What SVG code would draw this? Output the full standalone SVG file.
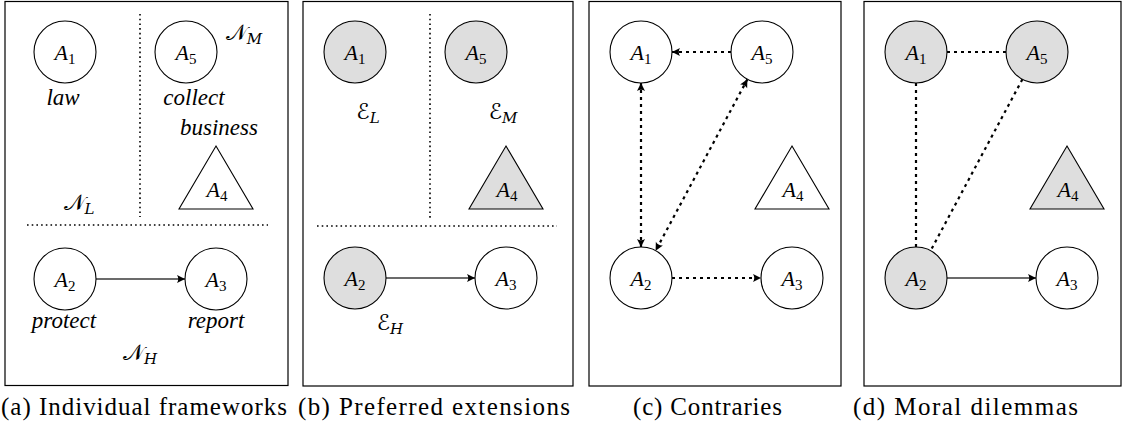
<svg xmlns="http://www.w3.org/2000/svg" width="1125" height="436" viewBox="0 0 1125 436">
<style>
  .box{fill:none;stroke:#000;stroke-width:1.2}
  .node{fill:#fff;stroke:#000;stroke-width:1.1}
  .sel{fill:#dedede}
  .sep{fill:none;stroke:#000;stroke-width:1.6;stroke-dasharray:1.6 3.1}
  .att{fill:none;stroke:#3a3a3a;stroke-width:1.3}
  .con{fill:none;stroke:#000;stroke-width:2.2;stroke-dasharray:3 4}
  .m{font-family:"Liberation Serif","DejaVu Serif",serif;font-size:22px;font-style:italic;text-anchor:middle;fill:#000}
  .sub{font-size:15px;font-style:normal}
  .subi{font-size:15px;font-style:italic}
  .w{font-family:"Liberation Serif","DejaVu Serif",serif;font-size:23px;font-style:italic;text-anchor:middle;fill:#000}
  .cal{font-family:"DejaVu Serif","DejaVu Sans",serif;font-size:22px;text-anchor:middle;fill:#000}
  .cap{font-family:"Liberation Serif","DejaVu Serif",serif;font-size:25px;fill:#000}
</style>
<defs>
  <marker id="arr" markerUnits="userSpaceOnUse" viewBox="-9 -5 10 10" markerWidth="10" markerHeight="10" refX="0" refY="0" orient="auto-start-reverse">
    <path d="M0,0 L-8,-4 Q-5.5,0 -8,4 Z" fill="#000"/>
  </marker>
</defs>

<!-- panel boxes -->
<g id="frames">
  <rect class="box" x="5" y="1.5" width="283" height="384"/>
  <rect class="box" x="303" y="1.5" width="270" height="384.5"/>
  <rect class="box" x="589" y="1.5" width="252" height="384.5"/>
  <rect class="box" x="864" y="1.5" width="257" height="384.5"/>
</g>

<!-- separators -->
<g id="separators">
  <line class="sep" x1="140" y1="14" x2="140" y2="217"/>
  <line class="sep" x1="27" y1="225" x2="268" y2="225"/>
  <line class="sep" x1="430" y1="14" x2="430" y2="218"/>
  <line class="sep" x1="317" y1="226" x2="557" y2="226"/>
</g>

<!-- connectors -->
<g id="connectors">
  <line class="att" x1="96" y1="279" x2="185" y2="279" marker-end="url(#arr)"/>
  <line class="att" x1="386" y1="278" x2="475" y2="278" marker-end="url(#arr)"/>
  <line class="con" x1="731" y1="52" x2="672" y2="52" marker-end="url(#arr)"/>
  <line class="con" x1="641" y1="83" x2="641" y2="247" marker-start="url(#arr)" marker-end="url(#arr)"/>
  <line class="con" x1="747.4" y1="79.3" x2="655.6" y2="250.7" marker-start="url(#arr)" marker-end="url(#arr)"/>
  <line class="con" x1="672" y1="278" x2="761" y2="278" marker-end="url(#arr)"/>
  <line class="con" x1="947" y1="52" x2="1006" y2="52"/>
  <line class="con" x1="916" y1="83" x2="916" y2="247"/>
  <line class="con" x1="1022.4" y1="79.3" x2="930.6" y2="250.7"/>
  <line class="att" x1="947" y1="278" x2="1036" y2="278" marker-end="url(#arr)"/>
</g>

<!-- panel (a) -->
<g id="a-A1"><circle class="node" cx="65" cy="52" r="31"/><text class="m" x="65" y="60">A<tspan class="sub" dy="4">1</tspan></text></g>
<g id="a-A5"><circle class="node" cx="186" cy="52" r="31"/><text class="m" x="186" y="60">A<tspan class="sub" dy="4">5</tspan></text></g>
<g id="a-A4"><polygon class="node" points="216,146 253,209 179,209"/><text class="m" x="217" y="197">A<tspan class="sub" dy="4">4</tspan></text></g>
<g id="a-A2"><circle class="node" cx="65" cy="279" r="31"/><text class="m" x="65" y="287">A<tspan class="sub" dy="4">2</tspan></text></g>
<g id="a-A3"><circle class="node" cx="216" cy="279" r="31"/><text class="m" x="216" y="287">A<tspan class="sub" dy="4">3</tspan></text></g>
<g id="a-labels">
  <text class="w" x="63" y="105">law</text>
  <text class="w" x="194" y="105">collect</text>
  <text class="w" x="219" y="135">business</text>
  <text class="w" x="64" y="328">protect</text>
  <text class="w" x="216" y="328">report</text>
  <text class="cal" x="244" y="40">𝒩<tspan class="subi" dy="4">M</tspan></text>
  <text class="cal" x="79" y="210">𝒩<tspan class="subi" dy="4">L</tspan></text>
  <text class="cal" x="140" y="360">𝒩<tspan class="subi" dy="4">H</tspan></text>
</g>

<!-- panel (b) -->
<g id="b-A1"><circle class="node sel" cx="355" cy="52" r="31"/><text class="m" x="355" y="60">A<tspan class="sub" dy="4">1</tspan></text></g>
<g id="b-A5"><circle class="node sel" cx="476" cy="52" r="31"/><text class="m" x="476" y="60">A<tspan class="sub" dy="4">5</tspan></text></g>
<g id="b-A4"><polygon class="node sel" points="506,146 543,209 469,209"/><text class="m" x="507" y="197">A<tspan class="sub" dy="4">4</tspan></text></g>
<g id="b-A2"><circle class="node sel" cx="355" cy="278" r="31"/><text class="m" x="355" y="286">A<tspan class="sub" dy="4">2</tspan></text></g>
<g id="b-A3"><circle class="node" cx="506" cy="278" r="31"/><text class="m" x="506" y="286">A<tspan class="sub" dy="4">3</tspan></text></g>
<g id="b-labels">
  <text class="cal" x="368" y="119">ℰ<tspan class="subi" dy="4">L</tspan></text>
  <text class="cal" x="503" y="119">ℰ<tspan class="subi" dy="4">M</tspan></text>
  <text class="cal" x="390" y="330">ℰ<tspan class="subi" dy="4">H</tspan></text>
</g>

<!-- panel (c) -->
<g id="c-A1"><circle class="node" cx="641" cy="52" r="31"/><text class="m" x="641" y="60">A<tspan class="sub" dy="4">1</tspan></text></g>
<g id="c-A5"><circle class="node" cx="762" cy="52" r="31"/><text class="m" x="762" y="60">A<tspan class="sub" dy="4">5</tspan></text></g>
<g id="c-A4"><polygon class="node" points="792,146 829,209 755,209"/><text class="m" x="793" y="197">A<tspan class="sub" dy="4">4</tspan></text></g>
<g id="c-A2"><circle class="node" cx="641" cy="278" r="31"/><text class="m" x="641" y="286">A<tspan class="sub" dy="4">2</tspan></text></g>
<g id="c-A3"><circle class="node" cx="792" cy="278" r="31"/><text class="m" x="792" y="286">A<tspan class="sub" dy="4">3</tspan></text></g>

<!-- panel (d) -->
<g id="d-A1"><circle class="node sel" cx="916" cy="52" r="31"/><text class="m" x="916" y="60">A<tspan class="sub" dy="4">1</tspan></text></g>
<g id="d-A5"><circle class="node sel" cx="1037" cy="52" r="31"/><text class="m" x="1037" y="60">A<tspan class="sub" dy="4">5</tspan></text></g>
<g id="d-A4"><polygon class="node sel" points="1067,146 1104,209 1030,209"/><text class="m" x="1068" y="197">A<tspan class="sub" dy="4">4</tspan></text></g>
<g id="d-A2"><circle class="node sel" cx="916" cy="278" r="31"/><text class="m" x="916" y="286">A<tspan class="sub" dy="4">2</tspan></text></g>
<g id="d-A3"><circle class="node" cx="1067" cy="278" r="31"/><text class="m" x="1067" y="286">A<tspan class="sub" dy="4">3</tspan></text></g>

<!-- captions -->
<g id="captions">
  <text class="cap" x="1" y="415" textLength="286" lengthAdjust="spacing">(a) Individual frameworks</text>
  <text class="cap" x="298" y="415" textLength="272" lengthAdjust="spacing">(b) Preferred extensions</text>
  <text class="cap" x="633" y="415" textLength="149" lengthAdjust="spacing">(c) Contraries</text>
  <text class="cap" x="853" y="415" textLength="225" lengthAdjust="spacing">(d) Moral dilemmas</text>
</g>
</svg>
